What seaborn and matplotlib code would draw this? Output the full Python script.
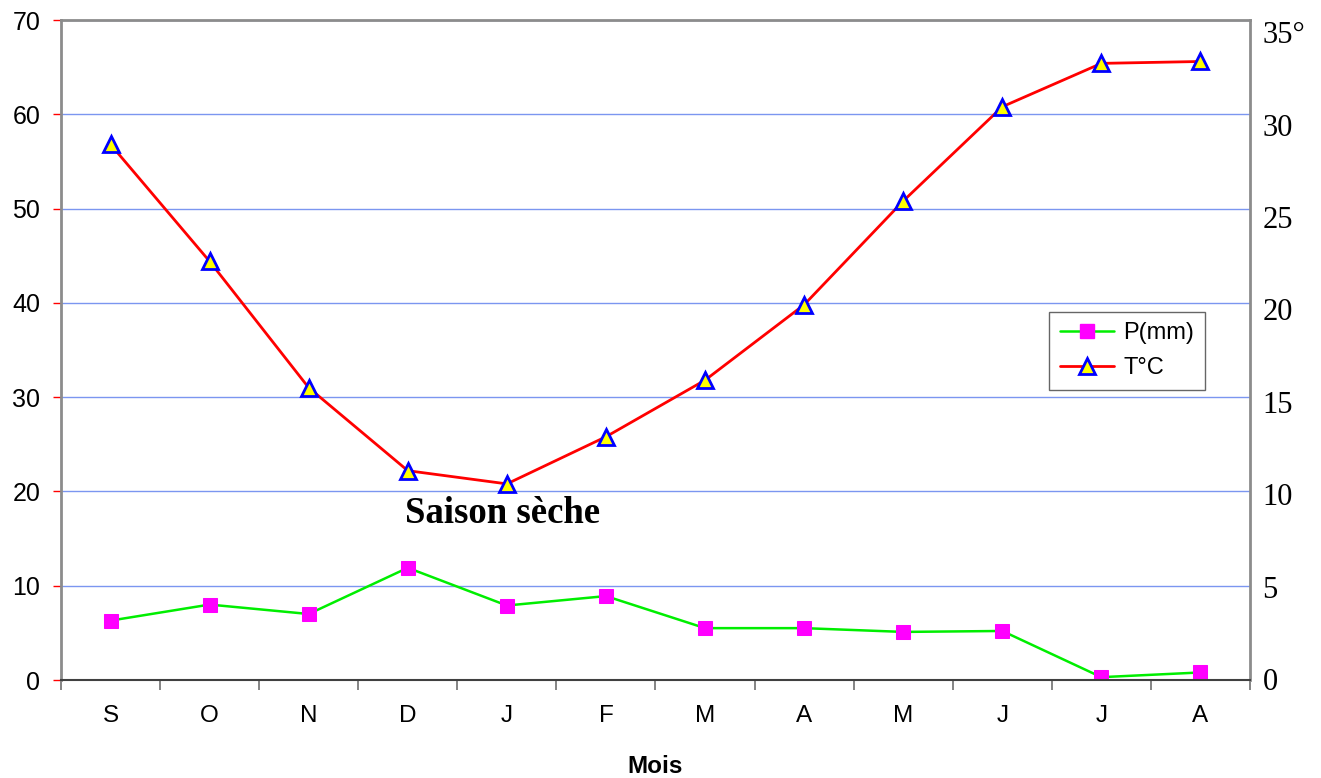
import matplotlib
matplotlib.use("Agg")
import matplotlib.pyplot as plt
from matplotlib.ticker import FixedLocator
from matplotlib.lines import Line2D
import seaborn as sns
import numpy as np

# data
months = ['S', 'O', 'N', 'D', 'J', 'F', 'M', 'A', 'M', 'J', 'J', 'A']
precip = [6.3, 8.0, 7.0, 11.9, 7.9, 8.9, 5.5, 5.5, 5.1, 5.2, 0.3, 0.8]
temp = [28.4, 22.2, 15.5, 11.1, 10.4, 12.9, 15.9, 19.9, 25.4, 30.4, 32.7, 32.8]
left_ticks = [0, 10, 20, 30, 40, 50, 60, 70]
right_ticks = [0, 5, 10, 15, 20, 25, 30, 35]
right_labels = ['0', '5', '10', '15', '20', '25', '30', '35°']

sns.set_style("white")
plt.rcParams['font.family'] = ['Liberation Sans', 'DejaVu Sans']
plt.rcParams['text.color'] = 'black'
plt.rcParams['axes.labelcolor'] = 'black'

fig = plt.figure(figsize=(13.21, 7.78), dpi=100)
ax = fig.add_axes([61/1321, 1 - 680/778, 1189/1321, 660/778])
ax2 = ax.twinx()

x = np.arange(len(months))

sns.lineplot(x=x, y=precip, ax=ax, color='#00ee00', lw=1.8, marker='s',
             markersize=10.5, markerfacecolor='#ff00ff', markeredgecolor='#ff00ff',
             label='P(mm)', legend=False)
sns.lineplot(x=x, y=temp, ax=ax2, color='#ff0000', lw=2, marker='^',
             markersize=11, markerfacecolor='#ffff00', markeredgecolor='#0000ff',
             markeredgewidth=2, label='T°C', legend=False)

# left axis
ax.set_xlim(-0.5, len(months) - 0.5)
ax.set_ylim(0, 70)
ax.set_yticks(left_ticks)
ax.set_yticklabels([str(t) for t in left_ticks], fontsize=18)
ax.tick_params(axis='y', length=6, width=1, color='#ff0000', labelcolor='black',
               pad=9, left=True)
ax.yaxis.grid(True, color='#7b96f0', lw=1)
ax.set_axisbelow(True)

# month labels centered, ticks on the category boundaries
ax.set_xticks(x)
ax.set_xticklabels(months, fontsize=17.5)
ax.xaxis.set_minor_locator(FixedLocator(np.arange(-0.5, len(months), 1.0)))
ax.tick_params(axis='x', which='major', length=0, pad=18, labelcolor='black')
ax.tick_params(axis='x', which='minor', length=7, width=1.2, color='#707070', bottom=True)
ax.set_xlabel('Mois', fontsize=17.5, fontweight='bold', labelpad=20)

for side in ['left', 'top', 'right']:
    ax.spines[side].set_color('#8c8c8c')
    ax.spines[side].set_linewidth(2)
ax.spines['bottom'].set_color('#404040')
ax.spines['bottom'].set_linewidth(1.5)

# right axis: labels sit slightly lower than the gridlines in the original
ax2.set_ylim(0, 35)
ax2.set_yticks([(1 + v * 18.48) / 18.857 for v in right_ticks])
ax2.set_yticklabels(right_labels, fontsize=22, family=['Liberation Serif', 'DejaVu Serif'])
ax2.tick_params(axis='y', length=0, pad=9, labelcolor='black')
for side in ['left', 'top', 'right', 'bottom']:
    ax2.spines[side].set_visible(False)

ax.text(3.96, 17.7, 'Saison sèche', fontsize=26.5, fontweight='bold',
        family=['Liberation Serif', 'DejaVu Serif'], ha='center', va='center')

handles = [
    Line2D([], [], color='#00ee00', lw=1.8, marker='s', markersize=10.5,
           markerfacecolor='#ff00ff', markeredgecolor='#ff00ff'),
    Line2D([], [], color='#ff0000', lw=2, marker='^', markersize=11,
           markerfacecolor='#ffff00', markeredgecolor='#0000ff', markeredgewidth=2),
]
leg = ax2.legend(handles, ['P(mm)', 'T°C'], loc='upper left',
                 bbox_to_anchor=(0.831, 0.558), borderaxespad=0, fontsize=17,
                 frameon=True, fancybox=False, edgecolor='#404040',
                 handlelength=2.3, handletextpad=0.4, borderpad=0.45, labelspacing=0.55)
leg.get_frame().set_linewidth(1)

fig.savefig('out.png', dpi=100)
